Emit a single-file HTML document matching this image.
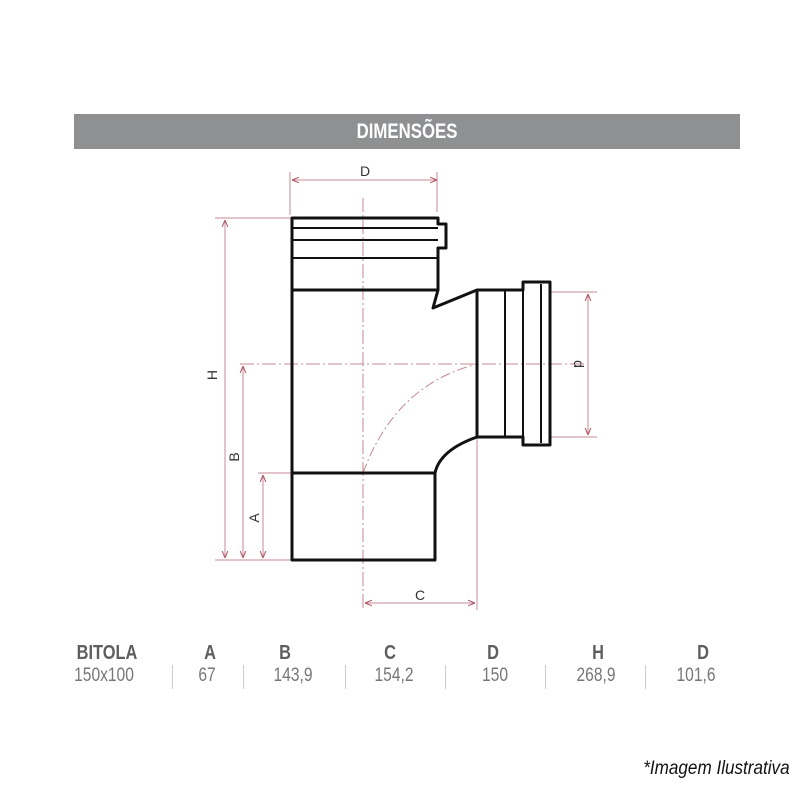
<!DOCTYPE html>
<html><head><meta charset="utf-8"><style>
body{margin:0;width:800px;height:800px;background:#fff;position:relative;overflow:hidden;font-family:"Liberation Sans",sans-serif}
.bar{position:absolute;left:74px;top:114px;width:666px;height:35px;background:#8f9092;color:#fff;font-weight:bold;font-size:21px;text-align:center;line-height:35px;font-family:"Liberation Sans",sans-serif}
.bar span{display:inline-block;transform:scaleX(0.8)}
.t{position:absolute;color:#666;font-size:20px;transform:translateX(-50%) scaleX(0.82)}
.h{font-weight:bold;top:642px;color:#5e5e5e}
.v{top:665px;color:#777;font-size:19px}
.sep{position:absolute;top:665px;width:1px;height:24px;background:#ccc}
.note{position:absolute;right:10px;top:758px;font-style:italic;font-size:19px;color:#111;transform:scaleX(0.9);transform-origin:right}
</style></head><body>
<div class="bar"><span>DIMENSÕES</span></div>
<svg width="800" height="800" style="position:absolute;left:0;top:0">
<defs><marker id="a" viewBox="0 0 10 10" refX="10" refY="5" markerWidth="7" markerHeight="7" orient="auto-start-reverse"><path d="M0,1 L10,5 L0,9" fill="none" stroke="#b05a6a" stroke-width="1.5"/></marker></defs>
<g stroke="#c58a94" stroke-width="1" fill="none">
<line x1="290" y1="172" x2="290" y2="215"/><line x1="437" y1="172" x2="437" y2="212"/>
<line x1="292" y1="180" x2="437" y2="180" marker-start="url(#a)" marker-end="url(#a)"/>
<line x1="215" y1="218" x2="292" y2="218"/><line x1="215" y1="560" x2="292" y2="560"/>
<line x1="225" y1="220" x2="225" y2="558" marker-start="url(#a)" marker-end="url(#a)"/>
<line x1="240" y1="364" x2="585" y2="364" stroke-dasharray="14 3 2 3"/>
<line x1="243" y1="366" x2="243" y2="558" marker-start="url(#a)" marker-end="url(#a)"/>
<line x1="258" y1="473" x2="292" y2="473"/>
<line x1="263" y1="475" x2="263" y2="558" marker-start="url(#a)" marker-end="url(#a)"/>
<line x1="363" y1="198" x2="363" y2="610" stroke-dasharray="14 3 2 3"/>
<line x1="477" y1="437" x2="477" y2="610"/>
<line x1="365" y1="603" x2="475" y2="603" marker-start="url(#a)" marker-end="url(#a)"/>
<line x1="550" y1="292" x2="597" y2="292"/><line x1="550" y1="437" x2="597" y2="437"/>
<line x1="588" y1="294" x2="588" y2="435" marker-start="url(#a)" marker-end="url(#a)"/>
<path d="M363,473 Q395,385 477,364" stroke-dasharray="10 3 2 3"/>
</g>
<g stroke="#111" stroke-width="3" fill="none" stroke-linejoin="round">
<path d="M292,218 H438 V224 H446 V248 H438 V290 L433,308 L477,290 H523 V282 H550 V445 H523 V437 H477 Q440,450 435,473 V560 H292 Z"/>
<line x1="292" y1="228" x2="438" y2="228" stroke-width="2"/>
<line x1="292" y1="240" x2="438" y2="240" stroke-width="2"/>
<line x1="292" y1="258" x2="438" y2="258" stroke-width="2"/>
<line x1="292" y1="290" x2="438" y2="290"/>
<line x1="292" y1="473" x2="435" y2="473"/>
<line x1="477" y1="290" x2="477" y2="437"/>
<line x1="505" y1="290" x2="505" y2="437" stroke-width="2"/>
<line x1="523" y1="282" x2="523" y2="445" stroke-width="2"/>
<line x1="541" y1="284" x2="541" y2="443" stroke-width="2"/>
</g>
<g fill="#333" font-family="Liberation Sans" font-size="14">
<text x="365" y="176" text-anchor="middle">D</text>
<text x="420" y="600" text-anchor="middle">C</text>
<text transform="translate(217,375) rotate(-90)" text-anchor="middle">H</text>
<text transform="translate(239,457) rotate(-90)" text-anchor="middle">B</text>
<text transform="translate(259,518) rotate(-90)" text-anchor="middle">A</text>
<text transform="translate(574,364) rotate(90)" text-anchor="middle">d</text>
</g>
</svg>
<div class="t h" style="left:107px">BITOLA</div>
<div class="t h" style="left:210px">A</div>
<div class="t h" style="left:285px">B</div>
<div class="t h" style="left:390px">C</div>
<div class="t h" style="left:493px">D</div>
<div class="t h" style="left:598px">H</div>
<div class="t h" style="left:703px">D</div>
<div class="t v" style="left:104px">150x100</div>
<div class="t v" style="left:207px">67</div>
<div class="t v" style="left:293px">143,9</div>
<div class="t v" style="left:394px">154,2</div>
<div class="t v" style="left:495px">150</div>
<div class="t v" style="left:596px">268,9</div>
<div class="t v" style="left:696px">101,6</div>
<div class="sep" style="left:172px"></div><div class="sep" style="left:243px"></div>
<div class="sep" style="left:345px"></div><div class="sep" style="left:445px"></div>
<div class="sep" style="left:545px"></div><div class="sep" style="left:645px"></div>
<div class="note">*Imagem Ilustrativa</div>
</body></html>
